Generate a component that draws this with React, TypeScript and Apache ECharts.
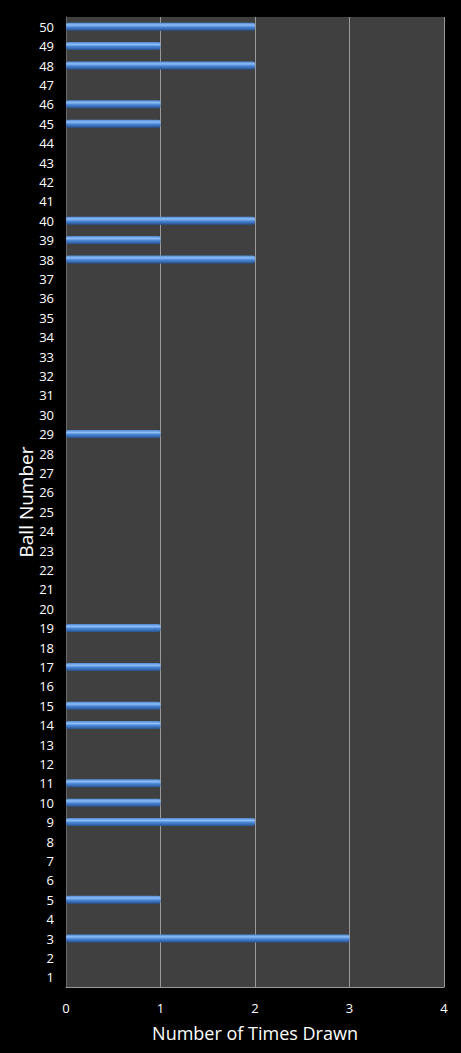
import React, { useEffect, useRef } from 'react';
import * as echarts from 'echarts';

// Ball numbers, bottom to top
const ballNumbers: string[] = [
  '1', '2', '3', '4', '5', '6', '7', '8', '9', '10',
  '11', '12', '13', '14', '15', '16', '17', '18', '19', '20',
  '21', '22', '23', '24', '25', '26', '27', '28', '29', '30',
  '31', '32', '33', '34', '35', '36', '37', '38', '39', '40',
  '41', '42', '43', '44', '45', '46', '47', '48', '49', '50',
];

// Number of times each ball was drawn (same order as ballNumbers)
const timesDrawn: number[] = [
  0, 0, 3, 0, 1, 0, 0, 0, 2, 1,
  1, 0, 0, 1, 1, 0, 1, 0, 1, 0,
  0, 0, 0, 0, 0, 0, 0, 0, 1, 0,
  0, 0, 0, 0, 0, 0, 0, 2, 1, 2,
  0, 0, 0, 0, 1, 1, 0, 2, 1, 2,
];

const xTicks: number[] = [0, 1, 2, 3, 4];

const App: React.FC = () => {
  const chartRef = useRef<HTMLDivElement>(null);

  useEffect(() => {
    if (!chartRef.current) return;
    const chart = echarts.init(chartRef.current, undefined, { renderer: 'svg' });

    const font = '"Open Sans", "DejaVu Sans", sans-serif';

    const option: any = {
      animation: false,
      backgroundColor: '#000000',
      grid: {
        left: 66,
        right: 17,
        top: 17,
        bottom: 66,
        outerBoundsMode: 'none',
        show: true,
        backgroundColor: '#404040',
        borderWidth: 0,
      },
      xAxis: {
        type: 'value',
        min: xTicks[0],
        max: xTicks[xTicks.length - 1],
        interval: 1,
        name: 'Number of Times Drawn',
        nameLocation: 'middle',
        nameGap: 37,
        nameMoveOverlap: false,
        nameTextStyle: { color: '#ffffff', fontSize: 18, fontFamily: font },
        axisLine: { show: true, lineStyle: { color: '#9a9a9a', width: 1 } },
        axisTick: { show: false },
        axisLabel: { color: '#ffffff', fontSize: 13, fontFamily: font, margin: 14 },
        splitLine: { show: true, lineStyle: { color: '#9a9a9a', width: 1 } },
      },
      yAxis: {
        type: 'category',
        data: ballNumbers,
        name: 'Ball Number',
        nameLocation: 'middle',
        nameGap: 31,
        nameMoveOverlap: false,
        nameRotate: 90,
        nameTextStyle: { color: '#ffffff', fontSize: 19, fontFamily: font },
        axisLine: { show: true, lineStyle: { color: '#6a6a6a', width: 1 } },
        axisTick: { show: false },
        axisLabel: { color: '#ffffff', fontSize: 13, fontFamily: font, margin: 12, interval: 0 },
        splitLine: { show: false },
      },
      series: [
        {
          type: 'bar',
          data: timesDrawn.map((v) => (v === 0 ? '-' : v)),
          barWidth: 8,
          itemStyle: {
            borderRadius: 2,
            color: new echarts.graphic.LinearGradient(0, 0, 0, 1, [
              { offset: 0, color: '#4f8ad6' },
              { offset: 0.3, color: '#8dbdf5' },
              { offset: 0.55, color: '#4a86d6' },
              { offset: 1, color: '#27528e' },
            ]),
          },
        },
      ],
    };

    chart.setOption(option);
    return () => {
      chart.dispose();
    };
  }, []);

  return (
    <div
      ref={chartRef}
      style={{ position: 'absolute', left: 0, top: 0, width: 461, height: 1053 }}
    />
  );
};

export default App;
